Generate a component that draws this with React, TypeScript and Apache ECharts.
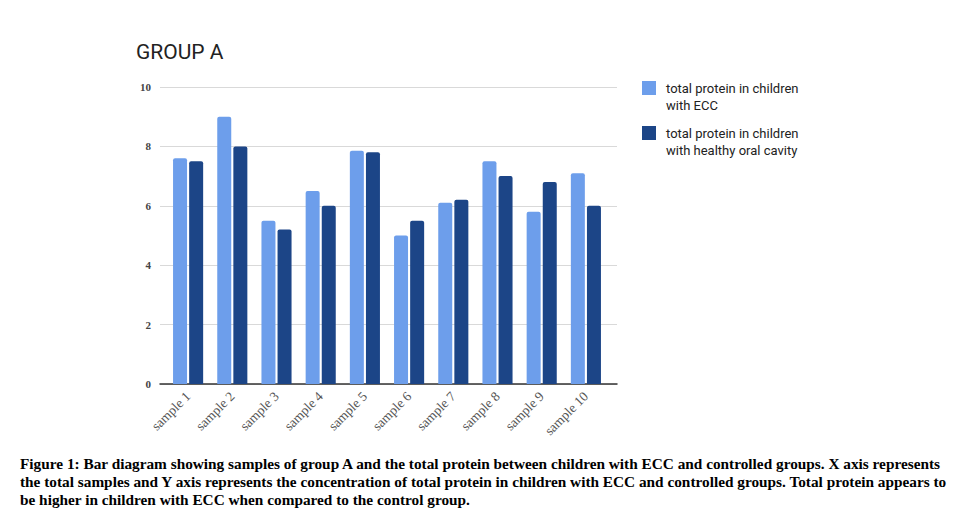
import React, { useEffect, useRef } from "react";
import * as echarts from "echarts";

const categories = ["sample 1", "sample 2", "sample 3", "sample 4", "sample 5", "sample 6", "sample 7", "sample 8", "sample 9", "sample 10"];
const eccValues = [7.6, 9.0, 5.5, 6.5, 7.85, 5.0, 6.1, 7.5, 5.8, 7.1];
const healthyValues = [7.5, 8.0, 5.2, 6.0, 7.8, 5.5, 6.2, 7.0, 6.8, 6.0];
const yTicks = { min: 0, max: 10, interval: 2 };
const seriesNames = ["total protein in children with ECC", "total protein in children with healthy oral cavity"];
const legendLines = [["total protein in children", "with ECC"], ["total protein in children", "with healthy oral cavity"]];
const colors = ["#6d9eeb", "#1c4587"];
const title = "GROUP A";
const captionLines = [
  "Figure 1: Bar diagram showing samples of group A and the total protein between children with ECC and controlled groups. X axis represents",
  "the total samples and Y axis represents the concentration of total protein in children with ECC and controlled groups. Total protein appears to",
  "be higher in children with ECC when compared to the control group.",
];

export default function App() {
  const ref = useRef<HTMLDivElement>(null);
  useEffect(() => {
    if (!ref.current) return;
    const chart = echarts.init(ref.current, null, { renderer: "svg" });
    const legendGraphics: any[] = [];
    legendLines.forEach((lines, i) => {
      const top = 81 + i * 45;
      legendGraphics.push({
        type: "rect",
        shape: { x: 642, y: top, width: 14, height: 14 },
        style: { fill: colors[i] },
      });
      lines.forEach((ln, j) => {
        legendGraphics.push({
          type: "text",
          x: 666,
          y: top + 7 + j * 17,
          style: { text: ln, font: "13px Roboto", fill: "#222", textVerticalAlign: "middle" },
        });
      });
    });
    const captionGraphics = captionLines.map((ln, i) => ({
      type: "text",
      x: 20,
      y: 463 + i * 18,
      style: { text: ln, font: "bold 15.3px 'Liberation Serif'", fill: "#000", textVerticalAlign: "middle" },
    }));
    chart.setOption({
      animation: false,
      backgroundColor: "#fff",
      title: {
        text: title,
        left: 131,
        top: 36,
        textStyle: { fontFamily: "Roboto", fontWeight: "normal", fontSize: 21, color: "#222" },
      },
      grid: [
        { left: 166, right: 372, top: 87, bottom: 128 },
        { left: 160, right: 363, top: 87, bottom: 128 },
      ],
      xAxis: [
        {
          type: "category",
          gridIndex: 0,
          data: categories,
          axisTick: { show: false },
          axisLine: { show: false },
          axisLabel: { rotate: 45, interval: 0, fontFamily: "Liberation Serif", fontSize: 13.5, color: "#555", margin: 10 },
        },
        {
          type: "value",
          gridIndex: 1,
          min: 0,
          max: 1,
          axisTick: { show: false },
          axisLabel: { show: false },
          splitLine: { show: false },
          axisLine: { lineStyle: { color: "#333", width: 1.5 } },
        },
      ],
      yAxis: [
        {
          type: "value",
          gridIndex: 0,
          min: yTicks.min,
          max: yTicks.max,
          interval: yTicks.interval,
          show: false,
        },
        {
          type: "value",
          gridIndex: 1,
          min: yTicks.min,
          max: yTicks.max,
          interval: yTicks.interval,
          axisLine: { show: false },
          axisTick: { show: false },
          splitLine: { lineStyle: { color: "#d9d9d9", width: 1 } },
          axisLabel: { fontFamily: "Liberation Serif", fontWeight: "bold", fontSize: 11, color: "#444", margin: 9 },
        },
      ],
      series: [
        {
          name: seriesNames[0],
          type: "bar",
          xAxisIndex: 0,
          yAxisIndex: 0,
          data: eccValues,
          barWidth: 14,
          barGap: "15%",
          z: 3,
          itemStyle: { color: colors[0], borderRadius: [2, 2, 0, 0] },
        },
        {
          name: seriesNames[1],
          type: "bar",
          xAxisIndex: 0,
          yAxisIndex: 0,
          data: healthyValues,
          barWidth: 14,
          barGap: "15%",
          z: 3,
          itemStyle: { color: colors[1], borderRadius: [2, 2, 0, 0] },
        },
      ],
      graphic: [...legendGraphics, ...captionGraphics],
    });
    return () => chart.dispose();
  }, []);
  return <div ref={ref} style={{ position: "fixed", left: 0, top: 0, width: 980, height: 512 }} />;
}
